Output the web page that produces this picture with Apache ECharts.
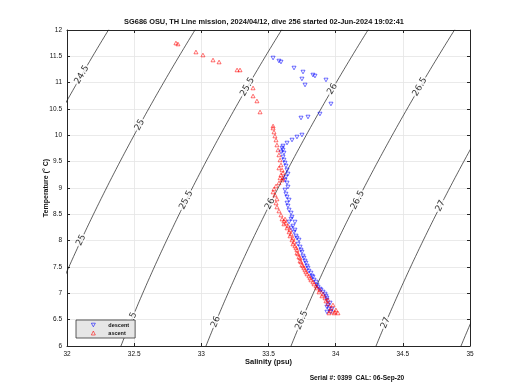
<!DOCTYPE html>
<html>
<head>
<meta charset="utf-8">
<script src="https://cdn.jsdelivr.net/npm/echarts@6/dist/echarts.min.js"></script>
<style>html,body{margin:0;padding:0;background:#fff;}#c{width:520px;height:390px;}</style>
</head>
<body>
<div id="c"></div>
<script>
// ---- data ----
const titleText = 'SG686 OSU, TH Line mission, 2024/04/12, dive 256 started 02-Jun-2024 19:02:41';
const footerText = 'Serial #: 0399  CAL: 06-Sep-20';
const salinityTicks = [32, 32.5, 33, 33.5, 34, 34.5, 35];
const temperatureTicks = [6, 6.5, 7, 7.5, 8, 8.5, 9, 9.5, 10, 10.5, 11, 11.5, 12];
const sigmaLevels = [24.5, 25, 25.5, 26, 26.5, 27, 27.5];
const labelLevels = [24.5, 25, 25, 25.5, 25.5, 25.5, 26, 26, 26, 26.5, 26.5, 26.5, 27, 27];
const labelTemps  = [11.15, 10.20, 8.01, 10.92, 8.77, 6.46, 10.88, 8.70, 6.46, 10.92, 8.77, 6.49, 8.66, 6.44];

const descentSal = [33.534,33.578,33.593,33.690,33.757,33.831,33.846,33.928,33.749,33.772,33.965,33.883,33.794,33.742,
  33.749,33.712,33.675,33.638,33.608,33.601,33.608,33.593,33.615,33.608,33.623,33.638,33.630,33.638,33.623,33.638,33.638,33.653,33.675,33.697,33.668,
  33.615,33.630,33.645,33.623,33.645,33.630,33.653,33.645,33.668,
  33.682,33.690,33.712,33.720,33.742,33.757,33.772,33.787,33.801,33.824,33.839,33.861,33.883,33.906,33.928,33.935,33.943,33.950,33.935,33.965,
  33.653,33.668,33.697,33.705,33.727,33.735,33.749,33.764,33.779,33.794,33.816,33.831,33.854,33.869,33.891,33.921,33.935,33.958,33.935,33.973];
const descentTemp = [11.468,11.411,11.392,11.278,11.202,11.145,11.126,11.051,11.070,10.956,10.595,10.405,10.348,10.329,
  10.006,9.968,9.911,9.854,9.797,9.759,9.722,9.684,9.665,9.589,9.475,9.342,9.209,9.096,8.962,8.829,8.715,8.582,8.449,8.354,8.411,
  9.532,9.418,9.266,9.152,9.019,8.886,8.772,8.658,8.525,
  8.278,8.164,8.050,7.936,7.823,7.709,7.614,7.519,7.423,7.329,7.253,7.158,7.082,7.025,6.949,6.874,6.779,6.703,6.646,6.646,
  8.355,8.241,8.203,8.089,8.013,7.880,7.785,7.671,7.576,7.481,7.386,7.310,7.215,7.120,7.063,6.987,6.912,6.817,6.741,6.703];

const ascentSal = [34.017,33.995,33.958,33.980,33.943,33.921,33.906,33.883,33.854,33.831,33.809,33.787,33.772,33.757,33.742,33.735,33.720,33.712,33.697,33.690,33.682,33.668,33.660,33.645,33.630,33.615,33.601,33.623,
  33.615,33.638,33.653,33.660,33.675,33.682,33.705,33.712,33.727,33.735,33.749,33.764,33.779,33.801,33.816,33.839,33.861,33.876,33.898,33.928,33.943,33.965,33.988,33.950,34.002,
  33.593,33.578,33.563,33.556,33.563,33.548,33.534,33.541,33.556,33.578,33.601,33.608,33.593,33.601,33.593,33.586,33.578,33.571,33.563,33.556,33.548,33.541,33.534,33.534,33.578,33.608,33.586,
  33.437,33.414,33.385,33.385,33.288,33.266,33.132,33.087,33.012,32.960,32.826,32.811];
const ascentTemp = [6.627,6.646,6.665,6.779,6.874,6.912,6.987,7.063,7.139,7.215,7.291,7.367,7.443,7.519,7.595,7.671,7.747,7.823,7.899,7.975,8.050,8.126,8.203,8.278,8.335,8.373,8.411,8.411,
  8.317,8.241,8.165,8.089,8.013,7.937,7.861,7.766,7.690,7.614,7.538,7.481,7.405,7.329,7.253,7.177,7.101,7.025,6.950,6.855,6.798,6.722,6.627,6.627,6.684,
  8.487,8.563,8.639,8.715,8.791,8.867,8.924,8.981,9.038,9.096,9.152,9.190,9.247,9.342,9.437,9.532,9.627,9.722,9.816,9.911,9.987,10.063,10.139,10.177,9.380,9.285,9.190,
  10.443,10.652,10.747,10.899,11.241,11.241,11.392,11.430,11.525,11.582,11.734,11.753];

// ---- seawater density (UNESCO EOS-80, surface) ----
function sigmaT(S, T) {
  const rw = 999.842594 + 6.793952e-2*T - 9.095290e-3*T*T + 1.001685e-4*T**3 - 1.120083e-6*T**4 + 6.536332e-9*T**5;
  const r = rw + S*(0.824493 - 4.0899e-3*T + 7.6438e-5*T*T - 8.2467e-7*T**3 + 5.3875e-9*T**4)
    + Math.pow(S,1.5)*(-5.72466e-3 + 1.0227e-4*T - 1.6546e-6*T*T) + 4.8314e-4*S*S;
  return r - 1000;
}
function salForSigma(sig, T) {
  let lo = 25, hi = 40;
  for (let i = 0; i < 60; i++) { const m = (lo+hi)/2; if (sigmaT(m,T) < sig) lo = m; else hi = m; }
  return (lo+hi)/2;
}

const GL = 67, GT = 30, GW = 403, GH = 316;
const sMin = salinityTicks[0], sMax = salinityTicks[salinityTicks.length-1];
const tMin = temperatureTicks[0], tMax = temperatureTicks[temperatureTicks.length-1];
const pxS = GW/(sMax-sMin), pxT = GH/(tMax-tMin);

const contourSeries = sigmaLevels.map(lv => {
  const pts = [];
  for (let T = tMin - 0.5; T <= tMax + 0.5001; T += 0.05) pts.push([salForSigma(lv, T), T]);
  return {
    type: 'line', data: pts, showSymbol: false, silent: true, clip: true, z: 1,
    lineStyle: { color: '#1a1a1a', width: 0.7 }, animation: false
  };
});

const labelData = labelLevels.map((lv, i) => {
  const T = labelTemps[i];
  const S = salForSigma(lv, T);
  const dS = salForSigma(lv, T+0.05) - salForSigma(lv, T-0.05);
  const ang = Math.atan2(0.1*pxT, dS*pxS) * 180 / Math.PI;
  return { value: [S, T, String(lv)], label: { rotate: ang } };
});

const downTri = 'path://M0,0L10,0L5,9Z';

const chart = echarts.init(document.getElementById('c'), null, { renderer: 'canvas' });
chart.setOption({
  animation: false,
  backgroundColor: '#fff',
  textStyle: { fontFamily: 'Liberation Sans' },
  grid: { left: GL, top: GT, width: GW, height: GH, show: false },
  xAxis: [
    { type: 'value', min: sMin, max: sMax, interval: 0.5, position: 'bottom',
      name: 'Salinity (psu)', nameLocation: 'middle', nameGap: 12, nameMoveOverlap: false,
      nameTextStyle: { fontSize: 7.5, fontWeight: 'bold', color: '#111', fontFamily: 'Liberation Sans' },
      axisLine: { show: true, lineStyle: { color: '#262626', width: 1 } },
      axisTick: { show: true, inside: true, length: 3, lineStyle: { color: '#262626' } },
      axisLabel: { fontSize: 6.5, color: '#111', margin: 5, formatter: v => String(v) },
      splitLine: { show: true, lineStyle: { color: '#e4e4e4', width: 0.8 } } },
    { type: 'value', min: sMin, max: sMax, interval: 0.5, position: 'top',
      axisLine: { show: true, lineStyle: { color: '#262626', width: 1 } },
      axisTick: { show: true, inside: true, length: 3, lineStyle: { color: '#262626' } },
      axisLabel: { show: false }, splitLine: { show: false } }
  ],
  yAxis: [
    { type: 'value', min: tMin, max: tMax, interval: 0.5, position: 'left',
      name: 'Temperature (° C)', nameLocation: 'middle', nameGap: 17, nameRotate: 90, nameMoveOverlap: false,
      nameTextStyle: { fontSize: 7, fontWeight: 'bold', color: '#111', fontFamily: 'Liberation Sans' },
      axisLine: { show: true, lineStyle: { color: '#262626', width: 1 } },
      axisTick: { show: true, inside: true, length: 3, lineStyle: { color: '#262626' } },
      axisLabel: { fontSize: 6.5, color: '#111', margin: 5, formatter: v => String(v) },
      splitLine: { show: true, lineStyle: { color: '#e4e4e4', width: 0.8 } } },
    { type: 'value', min: tMin, max: tMax, interval: 0.5, position: 'right',
      axisLine: { show: true, lineStyle: { color: '#262626', width: 1 } },
      axisTick: { show: true, inside: true, length: 3, lineStyle: { color: '#262626' } },
      axisLabel: { show: false }, splitLine: { show: false } }
  ],
  legend: {
    data: ['descent', 'ascent'], orient: 'vertical', left: 76, top: 320,
    backgroundColor: '#e6e6e6', borderColor: '#333', borderWidth: 0.8, borderRadius: 0,
    padding: [2, 6, 2, 15], itemWidth: 4, itemHeight: 4, itemGap: 2,
    itemStyle: { borderWidth: 0.7 },
    textStyle: { fontSize: 5.5, fontWeight: 'bold', color: '#111', padding: [0, 0, 0, 8] }
  },
  graphic: [
    { type: 'text', x: 264, y: 22, style: { text: titleText, textAlign: 'center', textVerticalAlign: 'middle',
      font: 'bold 7.4px "Liberation Sans"', fill: '#111' } },
    { type: 'text', x: 357, y: 378, style: { text: footerText, textAlign: 'center', textVerticalAlign: 'middle',
      font: 'bold 6.6px "Liberation Sans"', fill: '#111' } }
  ],
  series: [
    ...contourSeries,
    { type: 'scatter', name: 'contour labels', data: labelData, symbolSize: 0, silent: true, z: 3,
      label: { show: true, position: 'inside', formatter: p => p.value[2], fontSize: 9, color: '#000',
        fontFamily: 'DejaVu Sans', backgroundColor: '#fff', padding: [0, 1] } },
    { type: 'scatter', name: 'descent', data: descentSal.map((s, i) => [s, descentTemp[i]]),
      symbol: downTri, symbolSize: [4, 3.6], z: 4,
      itemStyle: { color: 'rgba(0,0,0,0)', borderColor: '#0000ff', borderWidth: 0.7 } },
    { type: 'scatter', name: 'ascent', data: ascentSal.map((s, i) => [s, ascentTemp[i]]),
      symbol: 'triangle', symbolSize: [4, 3.6], z: 4,
      itemStyle: { color: 'rgba(0,0,0,0)', borderColor: '#ff0000', borderWidth: 0.7 } }
  ]
});
</script>
</body>
</html>
